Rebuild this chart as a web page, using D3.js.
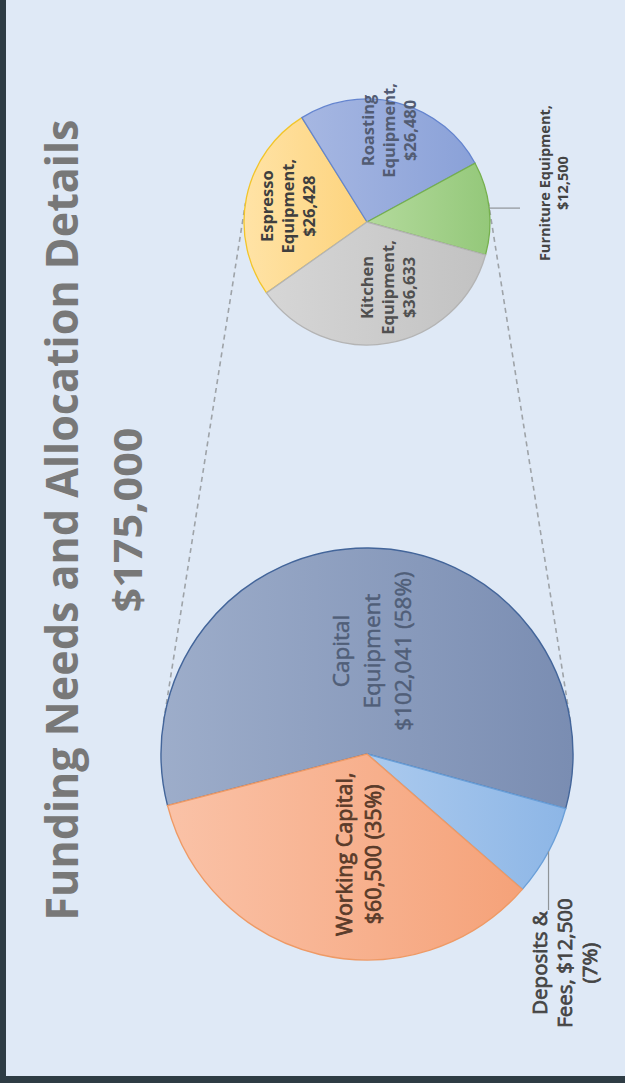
<!DOCTYPE html>
<html>
<head>
<meta charset="utf-8">
<script src="https://cdn.jsdelivr.net/npm/d3@7"></script>
<style>
  html, body { margin: 0; padding: 0; background: #dfe9f6; }
  svg { display: block; }
  text { font-family: "Open Sans", "Noto Sans", "DejaVu Sans", sans-serif; }
</style>
</head>
<body>
<div id="chart"></div>
<script>
// ---- data ----
var titleText = "Funding Needs and Allocation Details";
var totalFunding = 175000;

var mainCategories = ["Capital Equipment", "Deposits & Fees", "Working Capital"];
var mainValues = [102041, 12500, 60500];
var mainPercents = [58, 7, 35];

var subCategories = ["Espresso Equipment", "Roasting Equipment", "Furniture Equipment", "Kitchen Equipment"];
var subValues = [26428, 26480, 12500, 36633];

// ---- layout ----
var width = 625, height = 1083;
var money = d3.format("$,");
var deg = Math.PI / 180;

var svg = d3.select("#chart").append("svg")
    .attr("width", width)
    .attr("height", height);

svg.append("rect").attr("width", width).attr("height", height).attr("fill", "#dfe9f6");
svg.append("rect").attr("width", 6).attr("height", height).attr("fill", "#2e3c44");
svg.append("rect").attr("y", height - 7).attr("width", width).attr("height", 7).attr("fill", "#2e3c44");

// whole slide is turned a quarter to the left
var g = svg.append("g").attr("transform", "translate(0," + height + ") rotate(-90)");

var defs = svg.append("defs");
function grad(id, c1, c2) {
    var lg = defs.append("linearGradient").attr("id", id)
        .attr("x1", 0).attr("y1", 0).attr("x2", 0).attr("y2", 1);
    lg.append("stop").attr("offset", "0%").attr("stop-color", c1);
    lg.append("stop").attr("offset", "100%").attr("stop-color", c2);
}
var mainFill = [["#9dadca", "#7a8db2"], ["#abcaee", "#8db6e6"], ["#fac2a7", "#f5a279"]];
var mainStroke = ["#43659a", "#6a9fd8", "#ee9a66"];
var subFill = [["#ffe3a6", "#fdd37c"], ["#a6b7e2", "#8aa1d8"], ["#b3da9c", "#94c87a"], ["#d6d6d6", "#c2c2c2"]];
var subStroke = ["#f2c52a", "#6585cf", "#76b04e", "#b4b4b4"];
mainFill.forEach(function(c, i) { grad("mg" + i, c[0], c[1]); });
subFill.forEach(function(c, i) { grad("sg" + i, c[0], c[1]); });

// title
function fitText(sel, target) {
    var len = sel.node().getComputedTextLength();
    if (Math.abs(len - target) > 4) sel.attr("textLength", target).attr("lengthAdjust", "spacingAndGlyphs");
}
var t1 = g.append("text")
    .attr("x", 563).attr("y", 78)
    .attr("text-anchor", "middle")
    .style("font-size", "45px").style("font-weight", "bold")
    .attr("fill", "#787878")
    .text(titleText);
fitText(t1, 801);
var t2 = g.append("text")
    .attr("x", 563).attr("y", 142)
    .attr("text-anchor", "middle")
    .style("font-size", "40px").style("font-weight", "bold")
    .attr("fill", "#787878")
    .text(money(totalFunding));
fitText(t2, 185);

// pies
var mainC = [329, 367], mainR = 206;
var subC = [861, 367], subR = 123;

var mainData = mainCategories.map(function(c, i) { return {name: c, value: mainValues[i], pct: mainPercents[i], i: i}; });
var subData = subCategories.map(function(c, i) { return {name: c, value: subValues[i], i: i}; });

var mainStart = -14.5 * deg, subStart = -35.2 * deg;
var mainArcs = d3.pie().sort(null).value(function(d) { return d.value; })
    .startAngle(mainStart).endAngle(mainStart + 2 * Math.PI)(mainData);
var subArcs = d3.pie().sort(null).value(function(d) { return d.value; })
    .startAngle(subStart).endAngle(subStart + 2 * Math.PI)(subData);

// dashed connectors: outer common tangents of the two circles
var d = subC[0] - mainC[0];
var a = Math.asin((mainR - subR) / d);
[-1, 1].forEach(function(s) {
    g.append("line")
        .attr("x1", mainC[0] + mainR * Math.sin(a)).attr("y1", mainC[1] + s * mainR * Math.cos(a))
        .attr("x2", subC[0] + subR * Math.sin(a)).attr("y2", subC[1] + s * subR * Math.cos(a))
        .attr("stroke", "#9ea3a8").attr("stroke-width", 1.6)
        .attr("stroke-dasharray", "5,4");
});

var mainArc = d3.arc().innerRadius(0).outerRadius(mainR);
var subArc = d3.arc().innerRadius(0).outerRadius(subR);

g.append("g").attr("transform", "translate(" + mainC + ")")
    .selectAll("path").data(mainArcs).enter().append("path")
    .attr("d", mainArc)
    .attr("fill", function(d) { return "url(#mg" + d.data.i + ")"; })
    .attr("stroke", function(d) { return mainStroke[d.data.i]; })
    .attr("stroke-width", 1.4);

g.append("g").attr("transform", "translate(" + subC + ")")
    .selectAll("path").data(subArcs).enter().append("path")
    .attr("d", subArc)
    .attr("fill", function(d) { return "url(#sg" + d.data.i + ")"; })
    .attr("stroke", function(d) { return subStroke[d.data.i]; })
    .attr("stroke-width", 1.3);

// labels; a thin same-colour stroke gives a medium weight
function block(cx, cy, lines, fs, lh, weight, color, thick) {
    var t = g.append("text")
        .attr("text-anchor", "middle")
        .style("font-size", fs + "px").style("font-weight", weight)
        .attr("fill", color);
    if (thick) t.attr("stroke", color).attr("stroke-width", thick);
    lines.forEach(function(l, k) {
        t.append("tspan")
            .attr("x", cx)
            .attr("y", cy + (k - (lines.length - 1) / 2) * lh + 0.35 * fs)
            .text(l);
    });
}
function midAngle(p) { return (p.startAngle + p.endAngle) / 2; }
function polar(c, r, ang) { return [c[0] + r * Math.sin(ang), c[1] - r * Math.cos(ang)]; }

// main: inside labels
var capP = polar(mainC, mainR * 0.5, midAngle(mainArcs[0]));
block(capP[0], capP[1] + 4,
    ["Capital", "Equipment", money(mainValues[0]) + " (" + mainPercents[0] + "%)"],
    22.5, 31, "normal", "#505e78", 0.5);
var wkP = polar(mainC, mainR * 0.5, midAngle(mainArcs[2]));
block(wkP[0], wkP[1] + 16,
    [mainCategories[2] + ",", money(mainValues[2]) + " (" + mainPercents[2] + "%)"],
    21.5, 29, "normal", "#5a3b2a", 0.75);

// main: deposits outside with leader
var depA = polar(mainC, mainR, midAngle(mainArcs[1]));
var depEnd = [173, depA[1]];
g.append("line").attr("x1", depA[0]).attr("y1", depA[1]).attr("x2", depEnd[0]).attr("y2", depEnd[1])
    .attr("stroke", "#8f9498").attr("stroke-width", 1.2);
block(depEnd[0] - 53, depEnd[1] + 16,
    ["Deposits &", "Fees, " + money(mainValues[1]), "(" + mainPercents[1] + "%)"],
    20.5, 25, "normal", "#444444", 0.75);

// secondary pie labels
var subRatio = [0.65, 0.77, 0, 0.54];
var subNudge = [[0, 0], [0, -2], [0, 0], [0, 10]];
var subColor = ["#3f3f3f", "#525c73", "#3f3f3f", "#505050"];
[0, 1, 3].forEach(function(i) {
    var p = polar(subC, subR * subRatio[i], midAngle(subArcs[i]));
    var words = subCategories[i].split(" ");
    block(p[0] + subNudge[i][0], p[1] + subNudge[i][1],
        [words[0], words[1] + ",", money(subValues[i])],
        16.5, 21, "bold", subColor[i]);
});

// furniture outside with leader
var fA = polar(subC, subR, midAngle(subArcs[2]));
var fEnd = [fA[0], 520];
g.append("line").attr("x1", fA[0]).attr("y1", fA[1]).attr("x2", fEnd[0]).attr("y2", fEnd[1])
    .attr("stroke", "#8f9498").attr("stroke-width", 1.2);
block(fEnd[0] + 25, fEnd[1] + 34,
    [subCategories[2] + ",", money(subValues[2])],
    14.5, 18, "bold", "#444444");
</script>
</body>
</html>
